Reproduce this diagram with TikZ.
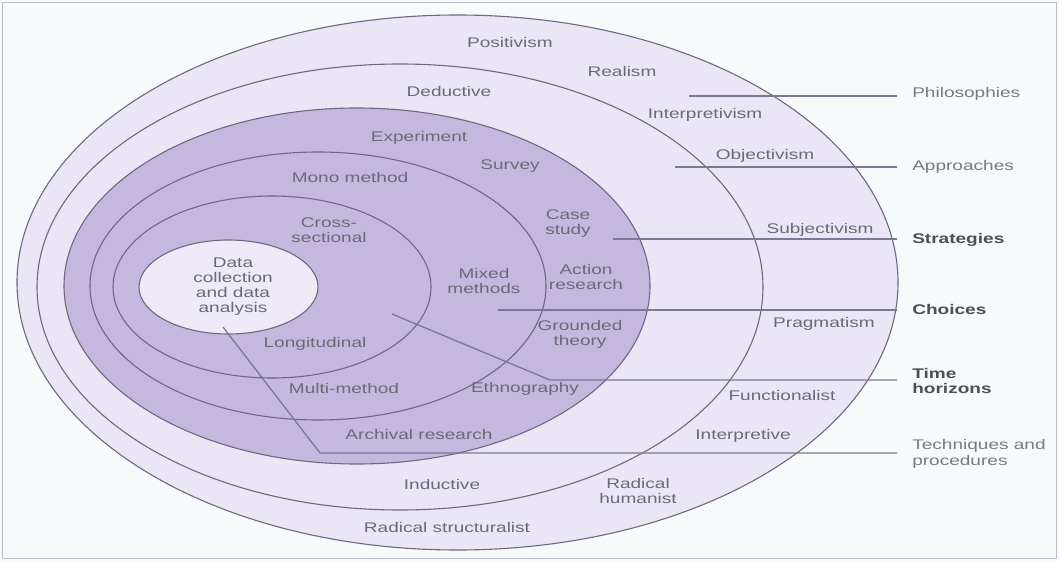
\documentclass[tikz,border=0pt]{standalone}
\usepackage{fontspec}
\setmainfont{Liberation Sans}
\definecolor{bgc}{HTML}{F6FAFB}
\definecolor{framec}{HTML}{BDBDCC}
\definecolor{lightring}{HTML}{EAE6F6}
\definecolor{darkring}{HTML}{C5B8DF}
\definecolor{innerc}{HTML}{EEEAF8}
\definecolor{edgec}{HTML}{6F6880}
\definecolor{leadc}{HTML}{7C7794}
\definecolor{txtc}{HTML}{6A6A74}
\definecolor{boldc}{HTML}{4E4E56}
\definecolor{lbltxt}{HTML}{7A7A82}
\begin{document}
\begin{tikzpicture}[x=1pt,y=-1pt,
  ring/.style={draw=edgec,line width=1.1pt},
  lead/.style={draw=leadc,line width=1.3pt},
  lbl/.style={font=\fontsize{14}{15}\selectfont,text=txtc,align=center,xscale=1.36,inner sep=0pt},
  side/.style={font=\fontsize{14}{15.5}\selectfont,text=lbltxt,align=left,anchor=west,xscale=1.36,inner sep=0pt},
  sideb/.style={side,font=\fontsize{14}{15.5}\selectfont\bfseries,text=boldc}]
\useasboundingbox (0,0) rectangle (1059,561);
\fill[bgc] (0,0) rectangle (1059,561);
\draw[framec,line width=1.2pt] (2.5,2.5) rectangle (1056.5,558.5);
% rings
\draw[ring,fill=lightring] (457.5,282.5) ellipse [x radius=440.5,y radius=267.5];
\draw[ring,fill=lightring] (400,287) ellipse [x radius=363,y radius=223];
\draw[ring,fill=darkring] (357,286) ellipse [x radius=293,y radius=178];
\draw[ring] (318,286) ellipse [x radius=228,y radius=134];
\draw[ring] (272,287) ellipse [x radius=159,y radius=91];
\draw[ring,fill=innerc] (228.5,287) ellipse [x radius=89.5,y radius=47];
% ring labels
\node[lbl] (pos) at (510,42) {Positivism};
\node[lbl] (rea) at (622,71) {Realism};
\node[lbl] (int) at (705,115) {Interpretivism};
\node[lbl] (obj) at (765,156) {Objectivism};
\node[lbl] (sub) at (820,230) {Subjectivism};
\node[lbl] (pra) at (824,324) {Pragmatism};
\node[lbl] (fun) at (782,395) {Functionalist};
\node[lbl] (inp) at (743,436) {Interpretive};
\node[lbl] (rh) at (638,491) {Radical\\humanist};
\node[lbl] (rs) at (447,527) {Radical structuralist};
\node[lbl] (ind) at (442,484) {Inductive};
\node[lbl] (ded) at (449,91) {Deductive};
\node[lbl] (exp) at (419,138) {Experiment};
\node[lbl] (sur) at (510,166) {Survey};
\node[lbl] (mono) at (350,177) {Mono method};
\node[lbl] (cross) at (329,230) {Cross-\\sectional};
\node[lbl] (data) at (233,287) {Data\\collection\\and data\\analysis};
\node[lbl] (mix) at (484,281) {Mixed\\methods};
\node[lbl] (case) at (568,224) {Case\\study};
\node[lbl] (act) at (586,277) {Action\\research};
\node[lbl] (gro) at (580,334) {Grounded\\theory};
\node[lbl] (eth) at (525,389) {Ethnography};
\node[lbl] (lon) at (315,344) {Longitudinal};
\node[lbl] (mul) at (344,388) {Multi-method};
\node[lbl] (arc) at (419,434) {Archival research};
% side labels
\node[side] (phil) at (912,94) {Philosophies};
\node[side] (appr) at (912,167) {Approaches};
\node[sideb] (strat) at (912,240) {Strategies};
\node[sideb] (cho) at (912,309) {Choices};
\node[sideb] (time) at (912,381) {Time\\horizons};
\node[side] (tech) at (912,454) {Techniques and\\procedures};
% leader lines
\coordinate (s1) at (689,96);  \coordinate (e1) at (897,96);
\coordinate (s2) at (675,167); \coordinate (e2) at (897,167);
\coordinate (s3) at (613,239); \coordinate (e3) at (897,239);
\coordinate (s4) at (498,310); \coordinate (e4) at (897,310);
\coordinate (s5) at (392,314); \coordinate (k5) at (550,380); \coordinate (e5) at (897,380);
\coordinate (s6) at (223,327); \coordinate (k6) at (320,453); \coordinate (e6) at (897,453);
\draw[lead] (s1) -- (e1);
\draw[lead] (s2) -- (e2);
\draw[lead] (s3) -- (e3);
\draw[lead] (s4) -- (e4);
\draw[lead] (s5) -- (k5) -- (e5);
\draw[lead] (s6) -- (k6) -- (e6);
\end{tikzpicture}
\end{document}
